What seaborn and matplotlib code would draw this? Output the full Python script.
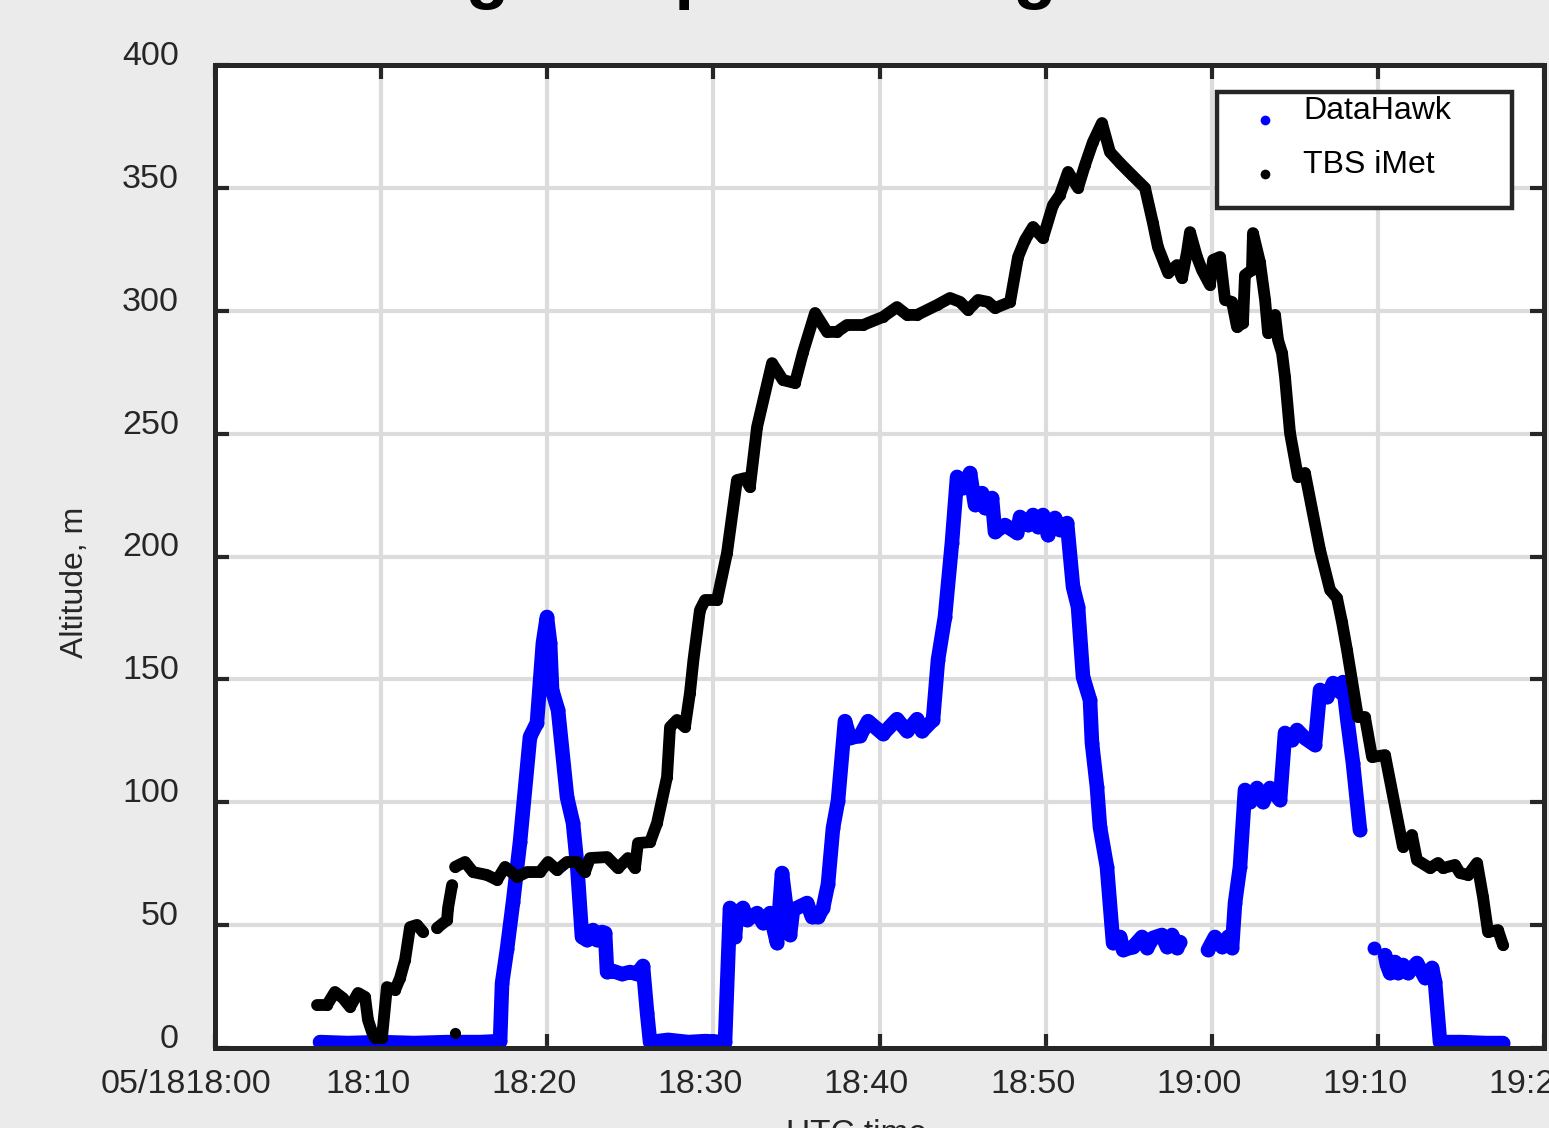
import matplotlib
matplotlib.use("Agg")
import matplotlib.pyplot as plt
import matplotlib.transforms as mtransforms
from matplotlib.lines import Line2D
import pandas as pd
import seaborn as sns

# Altitude records, time in minutes after 18:00 UTC (05/18), altitude in metres.
# Each list is one continuous stretch of samples; gaps in the records split them.
imet_seg1 = [(6.14, 17.5), (6.74, 17.5), (7.22, 22.8), (7.70, 20.3), (8.13, 16.7),
             (8.61, 22.4), (9.03, 20.8), (9.21, 11.4), (9.45, 6.5), (9.63, 4.1),
             (10.05, 4.1), (10.35, 24.8), (10.84, 23.6), (11.14, 28.5), (11.44, 35.8),
             (11.74, 49.2), (12.16, 50.1), (12.52, 47.2)]
imet_seg2 = [(13.36, 48.8), (13.97, 52.1), (14.03, 57.0), (14.27, 66.3)]
imet_seg3 = [(14.45, 73.7), (15.05, 75.7), (15.53, 71.6), (16.37, 70.4), (16.98, 68.4),
             (17.46, 73.7), (18.18, 69.6), (18.78, 71.6), (19.56, 71.6), (20.05, 75.7),
             (20.59, 72.4), (21.19, 75.7), (21.79, 75.7), (22.27, 71.6), (22.57, 77.3),
             (23.60, 77.7), (24.26, 73.2), (24.86, 77.3), (25.28, 73.2), (25.46, 83.4),
             (26.19, 83.8), (26.61, 91.6), (27.21, 110.3), (27.39, 130.6), (27.81, 133.5),
             (28.29, 130.6), (28.59, 144.5), (28.80, 157.9), (29.19, 178.2), (29.50, 182.3),
             (30.22, 182.3), (30.82, 201.4), (31.42, 231.1), (31.90, 231.9), (32.20, 228.3),
             (32.63, 252.7), (33.53, 278.7), (34.19, 271.8), (34.91, 270.6), (35.40, 283.2),
             (36.12, 299.1), (36.84, 291.4), (37.44, 291.4), (38.04, 294.2), (39.01, 294.2),
             (40.21, 297.5), (41.05, 301.5), (41.66, 298.3), (42.26, 298.3), (43.46, 302.3),
             (44.24, 305.2), (44.85, 303.6), (45.33, 300.3), (45.93, 304.4), (46.53, 303.6),
             (46.95, 301.1), (47.86, 303.6), (48.34, 321.9), (48.76, 328.8), (49.24, 334.1),
             (49.84, 329.6), (50.44, 343.0), (50.86, 347.1), (51.35, 356.5), (51.95, 350.0),
             (52.37, 359.3), (52.85, 368.7), (53.39, 376.4), (53.87, 364.6), (54.48, 360.1),
             (55.20, 355.2), (55.98, 350.0), (56.46, 335.7), (56.76, 325.9), (57.37, 315.4),
             (57.91, 318.6), (58.21, 313.3), (58.51, 323.9), (58.69, 332.0), (59.11, 321.9),
             (59.41, 316.6), (59.89, 310.5), (60.08, 320.7), (60.50, 321.9), (60.80, 304.4),
             (61.22, 303.6), (61.52, 293.4), (61.88, 295.0), (62.00, 314.5), (62.42, 316.6),
             (62.48, 331.6), (62.90, 319.8), (63.21, 304.4), (63.39, 290.9), (63.81, 298.3),
             (63.99, 288.1), (64.23, 282.8), (64.41, 273.0), (64.71, 250.3), (65.19, 232.4),
             (65.61, 234.0), (66.52, 202.6), (67.12, 186.4), (67.54, 183.1), (67.84, 173.3),
             (68.14, 162.0), (68.80, 134.7), (69.22, 134.7), (69.65, 118.4), (70.43, 119.2),
             (71.51, 81.8), (72.05, 86.7), (72.35, 76.5), (73.14, 73.2), (73.62, 75.3),
             (73.92, 73.2), (74.64, 74.5), (74.94, 71.2), (75.43, 70.4), (75.97, 75.3),
             (76.33, 61.4), (76.63, 47.2), (77.23, 48.0), (77.53, 41.9)]
imet_single = [(14.45, 6.1)]

hawk_seg1 = [(6.32, 2.4), (8.00, 2.0), (10.00, 2.4), (12.00, 2.0), (14.00, 2.4),
             (16.00, 2.4), (17.16, 2.8), (17.28, 26.4), (17.58, 40.3), (17.94, 59.4),
             (18.36, 83.8), (18.96, 126.6), (19.38, 132.3), (19.74, 164.8), (19.98, 175.4),
             (20.17, 164.8), (20.29, 145.7), (20.65, 137.5), (21.19, 102.1), (21.55, 91.6),
             (21.79, 75.3), (22.09, 45.2), (22.39, 43.9), (22.75, 48.0), (22.99, 43.9),
             (23.30, 47.2), (23.48, 46.8), (23.60, 30.9), (23.96, 31.3), (24.50, 30.1),
             (24.98, 30.9), (25.40, 30.1), (25.76, 33.4), (26.01, 14.2), (26.19, 2.4),
             (27.27, 3.3), (28.50, 2.4), (29.50, 2.8), (30.70, 2.4), (31.00, 57.0),
             (31.30, 45.2), (31.42, 54.9), (31.78, 57.0), (32.02, 52.1), (32.63, 54.9),
             (32.99, 50.8), (33.41, 54.9), (33.83, 42.7), (34.13, 71.2), (34.43, 54.9),
             (34.61, 46.0), (34.79, 56.2), (35.64, 59.0), (35.94, 53.3), (36.30, 53.3),
             (36.60, 57.0), (36.90, 66.7), (37.20, 89.5), (37.50, 100.5), (37.92, 133.0),
             (38.22, 126.2), (38.83, 127.0), (39.31, 133.0), (40.21, 127.8), (41.05, 133.8),
             (41.66, 128.9), (42.26, 133.8), (42.56, 128.9), (43.22, 133.5), (43.52, 157.9),
             (43.94, 175.4), (44.36, 205.5), (44.67, 232.4), (45.03, 227.9), (45.45, 234.0),
             (45.75, 221.0), (46.17, 225.8), (46.35, 219.7), (46.77, 223.8), (46.95, 210.0),
             (47.55, 212.8), (48.28, 209.6), (48.46, 216.1), (48.94, 212.8), (49.24, 216.9),
             (49.54, 212.0), (49.84, 216.9), (50.14, 208.7), (50.56, 215.7), (50.86, 210.8),
             (51.29, 213.6), (51.65, 187.6), (51.95, 179.5), (52.25, 151.0), (52.67, 141.6),
             (52.79, 124.1), (53.09, 106.2), (53.27, 89.9), (53.69, 73.7), (54.06, 42.7),
             (54.48, 45.2), (54.66, 39.9), (55.26, 41.1), (55.80, 45.2), (56.10, 40.7),
             (56.46, 44.8), (57.00, 46.0), (57.31, 41.1), (57.61, 46.0), (57.91, 40.7),
             (58.09, 43.1)]
hawk_seg2 = [(59.77, 39.9), (60.19, 45.2), (60.62, 41.1), (60.98, 45.2), (61.22, 40.7),
             (61.40, 59.0), (61.70, 73.7), (62.00, 105.0), (62.30, 100.1), (62.72, 105.8),
             (63.08, 100.1), (63.51, 105.8), (64.11, 100.9), (64.41, 128.2), (64.83, 125.3),
             (65.13, 129.4), (65.61, 126.1), (66.21, 123.3), (66.52, 145.7), (66.94, 142.8),
             (67.30, 148.5), (67.72, 144.9), (67.90, 148.9), (68.14, 134.7), (68.50, 116.0),
             (68.92, 88.7)]
hawk_single = [(69.77, 40.7)]
hawk_seg3 = [(70.43, 37.8), (70.55, 33.8), (70.73, 30.5), (71.03, 35.0), (71.21, 30.5),
             (71.51, 33.8), (71.81, 30.5), (72.35, 34.6), (72.84, 28.5), (73.26, 32.6),
             (73.44, 26.9), (73.74, 2.4), (75.00, 2.4), (76.50, 2.0), (77.53, 2.0)]

x_ticks = [0, 10, 20, 30, 40, 50, 60, 70, 80]
x_tick_labels = ["05/1818:00", "18:10", "18:20", "18:30", "18:40",
                 "18:50", "19:00", "19:10", "19:20"]
y_ticks = [0, 50, 100, 150, 200, 250, 300, 350, 400]

series_names = ["DataHawk", "TBS iMet"]
series_colors = ["#0000ff", "#000000"]


def frame(segments):
    rows = []
    for k, seg in enumerate(segments):
        for t, a in seg:
            rows.append({"minutes": t, "altitude": a, "segment": k})
    return pd.DataFrame(rows)


hawk = frame([hawk_seg1, hawk_seg2, hawk_single, hawk_seg3])
imet = frame([imet_seg1, imet_seg2, imet_seg3, imet_single])

sns.set_style("ticks")
plt.rcParams["font.family"] = ["Liberation Sans", "DejaVu Sans"]

bg = "#ebebeb"
ink = "#262626"
fig = plt.figure(figsize=(15.49, 11.28), dpi=100, facecolor=bg)
ax = fig.add_axes([215 / 1549, 80 / 1128, 1329 / 1549, 983 / 1128])
ax.set_facecolor("white")

sns.lineplot(data=hawk, x="minutes", y="altitude", units="segment", estimator=None,
             sort=False, color=series_colors[0], linewidth=10.5, marker="o",
             markersize=10, markeredgewidth=0, solid_capstyle="round",
             solid_joinstyle="round", ax=ax, zorder=3, legend=False)
sns.lineplot(data=imet, x="minutes", y="altitude", units="segment", estimator=None,
             sort=False, color=series_colors[1], linewidth=8.5, marker="o",
             markersize=8, markeredgewidth=0, solid_capstyle="round",
             solid_joinstyle="round", ax=ax, zorder=4, legend=False)

ax.set_xlim(0, 80)
ax.set_ylim(0, 400)
ax.set_xticks(x_ticks)
ax.set_xticklabels(x_tick_labels)
ax.set_yticks(y_ticks)
ax.set_yticklabels([str(v) for v in y_ticks])

ax.grid(True, color="#dcdcdc", lw=3, zorder=0)
ax.set_axisbelow(True)
for s in ax.spines.values():
    s.set_visible(True)
    s.set_linewidth(3.6)
    s.set_color(ink)
    s.set_zorder(6)

ax.tick_params(axis="both", which="major", direction="in", length=10, width=3,
               color=ink, labelcolor=ink, labelsize=24.5, top=True, right=True)
ax.tick_params(axis="x", pad=15)
ax.tick_params(axis="y", pad=26)

shift_x = mtransforms.ScaledTranslation(-13 / 100, 0, fig.dpi_scale_trans)
shift_first = mtransforms.ScaledTranslation(-29 / 100, 0, fig.dpi_scale_trans)
for i, lab in enumerate(ax.get_xticklabels()):
    lab.set_transform(lab.get_transform() + (shift_first if i == 0 else shift_x))
shift_y = mtransforms.ScaledTranslation(0, 12 / 100, fig.dpi_scale_trans)
for lab in ax.get_yticklabels():
    lab.set_transform(lab.get_transform() + shift_y)

ax.set_xlabel("UTC time", fontsize=24, color=ink)
ax.xaxis.set_label_coords(0.483, -0.072)
ax.set_ylabel("Altitude, m", fontsize=23, color=ink)
ax.yaxis.set_label_coords(-0.094, 0.474)

handles = [Line2D([], [], ls="none", marker="o", markersize=7, markeredgewidth=0,
                  color=c) for c in series_colors]
leg = ax.legend(handles, series_names, loc="upper left",
                bbox_to_anchor=(0.754, 0.9725, 0.222, 0.0), mode="expand",
                borderaxespad=0, fontsize=23, frameon=True, fancybox=False,
                framealpha=1, borderpad=0.5, handlelength=2.0, handletextpad=0.2,
                labelspacing=0.75, numpoints=1)
leg.get_frame().set_linewidth(3.2)
leg.get_frame().set_edgecolor(ink)
leg.set_zorder(10)
for txt in leg.get_texts():
    txt.set_color("black")
    txt.set_y(12)

fig.text(0.003, 1 + 5 / 1128, "Altitude during comparison flight", fontsize=51,
         fontweight="bold", ha="left", va="baseline", color="black")

fig.savefig("out.png", dpi=100, facecolor=bg)
